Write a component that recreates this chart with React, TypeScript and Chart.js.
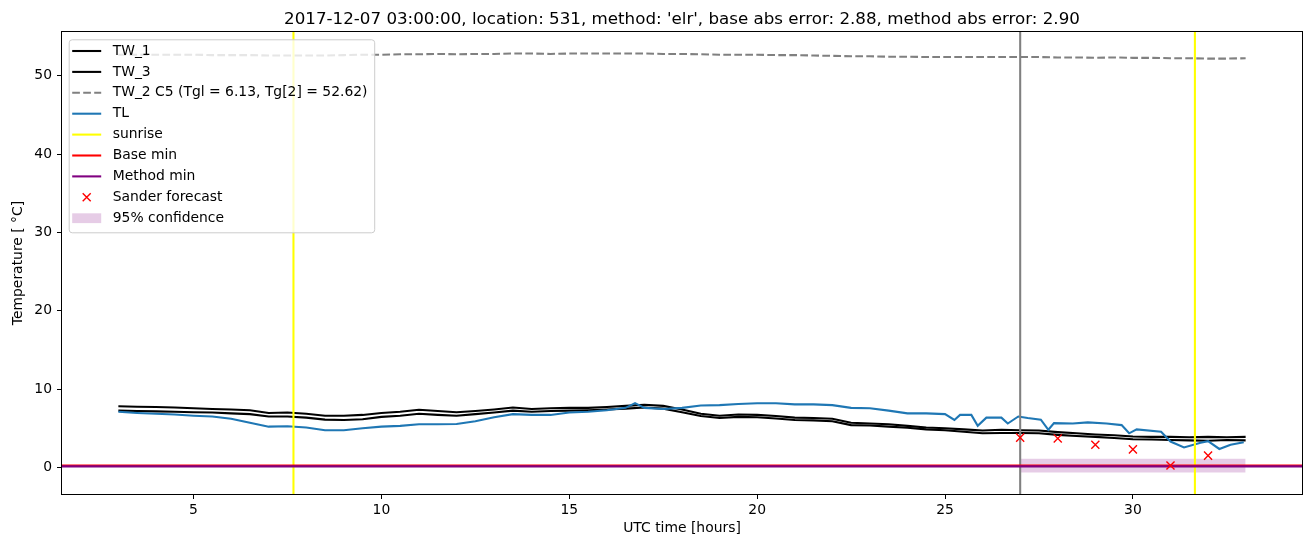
import React, { useEffect, useRef } from 'react';
import { Chart, registerables } from 'chart.js';

Chart.register(...registerables);

// ---------------- data ----------------
const titleText =
  "2017-12-07 03:00:00, location: 531, method: 'elr', base abs error: 2.88, method abs error: 2.90";

const hours = [
  3, 3.5, 4, 4.5, 5, 5.5, 6, 6.5, 7, 7.5,
  8, 8.5, 9, 9.5, 10, 10.5, 11, 11.5, 12, 12.5,
  13, 13.5, 14, 14.5, 15, 15.5, 16, 16.5, 17, 17.5,
  18, 18.5, 19, 19.5, 20, 20.5, 21, 21.5, 22, 22.5,
  23, 23.5, 24, 24.5, 25, 25.5, 26, 26.5, 27, 27.5,
  28, 28.5, 29, 29.5, 30, 30.5, 31, 31.5, 32, 32.5,
  33,
];

const tw1Values = [
  7.8, 7.75, 7.7, 7.65, 7.55, 7.45, 7.4, 7.3, 6.95, 7.0,
  6.85, 6.6, 6.6, 6.7, 6.95, 7.1, 7.35, 7.2, 7.05, 7.2,
  7.4, 7.65, 7.45, 7.55, 7.6, 7.6, 7.7, 7.85, 8.0, 7.85,
  7.4, 6.85, 6.6, 6.75, 6.7, 6.55, 6.35, 6.3, 6.2, 5.7,
  5.6, 5.5, 5.3, 5.1, 5.0, 4.85, 4.7, 4.8, 4.75, 4.7,
  4.5, 4.35, 4.2, 4.1, 3.95, 3.9, 3.9, 3.85, 3.9, 3.85,
  3.9,
];

const tw3Values = [
  7.25, 7.2, 7.15, 7.1, 7.05, 7.0, 6.9, 6.8, 6.5, 6.5,
  6.35, 6.1, 6.05, 6.15, 6.45, 6.6, 6.85, 6.7, 6.6, 6.8,
  7.0, 7.25, 7.1, 7.2, 7.25, 7.3, 7.4, 7.5, 7.65, 7.5,
  7.05, 6.55, 6.3, 6.45, 6.4, 6.25, 6.05, 6.0, 5.9, 5.4,
  5.35, 5.2, 5.05, 4.85, 4.75, 4.55, 4.35, 4.4, 4.4, 4.35,
  4.15, 4.0, 3.9, 3.75, 3.6, 3.55, 3.5, 3.45, 3.4, 3.5,
  3.45,
];

const tw2Values = [
  52.7, 52.7, 52.7, 52.7, 52.7, 52.65, 52.65, 52.65, 52.6, 52.6,
  52.6, 52.6, 52.65, 52.7, 52.7, 52.75, 52.75, 52.8, 52.75, 52.8,
  52.8, 52.85, 52.85, 52.8, 52.85, 52.85, 52.85, 52.85, 52.85, 52.8,
  52.8, 52.75, 52.7, 52.7, 52.7, 52.65, 52.65, 52.6, 52.55, 52.5,
  52.5, 52.45, 52.45, 52.4, 52.4, 52.4, 52.4, 52.4, 52.4, 52.4,
  52.35, 52.35, 52.3, 52.35, 52.3, 52.3, 52.25, 52.25, 52.2, 52.2,
  52.25,
];

const tlHours = [
  3, 3.5, 4, 4.5, 5, 5.5, 6, 6.5, 7, 7.5,
  8, 8.5, 9, 9.5, 10, 10.5, 11, 11.5, 12, 12.5,
  13, 13.5, 14, 14.5, 15, 15.5, 16, 16.5, 16.75, 17,
  17.5, 18, 18.5, 19, 19.5, 20, 20.5, 21, 21.5, 22,
  22.5, 23, 23.5, 24, 24.5, 25, 25.25, 25.4, 25.7, 25.87,
  26.1, 26.5, 26.67, 26.95, 27.2, 27.55, 27.75, 27.9, 28.4, 28.8,
  29.3, 29.7, 29.9, 30.1, 30.75, 31.0, 31.36, 31.8, 32.0, 32.3,
  32.6, 32.95,
];

const tlValues = [
  7.1, 6.95, 6.85, 6.75, 6.6, 6.5, 6.2, 5.7, 5.2, 5.25,
  5.1, 4.75, 4.75, 5.0, 5.2, 5.3, 5.5, 5.5, 5.55, 5.9,
  6.4, 6.8, 6.7, 6.7, 7.0, 7.1, 7.3, 7.6, 8.2, 7.6,
  7.45, 7.6, 7.9, 7.95, 8.1, 8.2, 8.2, 8.05, 8.05, 7.95,
  7.6, 7.55, 7.25, 6.9, 6.9, 6.8, 6.05, 6.7, 6.7, 5.3,
  6.35, 6.35, 5.6, 6.5, 6.3, 6.1, 4.8, 5.65, 5.6, 5.75,
  5.6, 5.4, 4.35, 4.85, 4.55, 3.3, 2.55, 3.15, 3.35, 2.35,
  2.9, 3.2,
];

const sunriseHours = [7.66, 31.65];
const forecastHour = 27;
const baseMin = 0.25;
const methodMin = 0.13;

const sanderHours = [27, 28, 29, 30, 31, 32];
const sanderValues = [3.8, 3.7, 2.9, 2.3, 0.23, 1.5];

const confHours = [27, 33];
const confLower = [-0.65, -0.65];
const confUpper = [1.1, 1.1];

const xLimits = [1.5, 34.5];
const yLimits = [-3.4, 55.6];
const xTicks = [5, 10, 15, 20, 25, 30];
const yTicks = [0, 10, 20, 30, 40, 50];

// ---------------- style ----------------
const FONT = "'DejaVu Sans'";
const FS = 13.9;
const LW = 2.08;

const pts = (xs: number[], ys: number[]) => xs.map((x, i) => ({ x, y: ys[i] }));

const decorPlugin = {
  id: 'decor',
  afterDraw(chart: any) {
    const { ctx, chartArea: a } = chart;
    ctx.save();
    // spines
    ctx.strokeStyle = '#000';
    ctx.lineWidth = 1;
    ctx.strokeRect(a.left - 0.5, a.top - 0.5, a.right - a.left + 1, a.bottom - a.top + 1);

    // title
    ctx.fillStyle = '#000';
    ctx.font = `16.7px ${FONT}`;
    ctx.textAlign = 'center';
    ctx.textBaseline = 'alphabetic';
    ctx.fillText(titleText, (a.left + a.right) / 2, 24);

    // legend
    const items = chart.data.datasets.filter((d: any) => d.legendKind);
    ctx.font = `${FS}px ${FONT}`;
    const maxW = Math.max(...items.map((d: any) => ctx.measureText(d.label).width));
    const lx = a.left + 6.7;
    const ly = a.top + 7.3;
    const lw = 44 + maxW + 6.7;
    const lh = 193;
    ctx.beginPath();
    (ctx as any).roundRect(lx + 0.5, ly + 0.5, lw, lh, 3);
    ctx.fillStyle = 'rgba(255,255,255,0.8)';
    ctx.fill();
    ctx.strokeStyle = '#cccccc';
    ctx.lineWidth = 1;
    ctx.stroke();

    const hx0 = lx + 3.5;
    const hx1 = lx + 32.5;
    const tx = lx + 44;
    items.forEach((d: any, i: number) => {
      const cy = ly + 11.7 + i * 20.9;
      ctx.save();
      if (d.legendKind === 'line' || d.legendKind === 'dash') {
        ctx.strokeStyle = d.borderColor;
        ctx.lineWidth = LW;
        ctx.setLineDash(d.legendKind === 'dash' ? d.borderDash : []);
        ctx.beginPath();
        ctx.moveTo(hx0, cy);
        ctx.lineTo(hx1, cy);
        ctx.stroke();
      } else if (d.legendKind === 'cross') {
        const cx = (hx0 + hx1) / 2;
        const r = 4;
        ctx.strokeStyle = d.borderColor;
        ctx.lineWidth = 1.4;
        ctx.beginPath();
        ctx.moveTo(cx - r, cy - r);
        ctx.lineTo(cx + r, cy + r);
        ctx.moveTo(cx + r, cy - r);
        ctx.lineTo(cx - r, cy + r);
        ctx.stroke();
      } else if (d.legendKind === 'patch') {
        ctx.fillStyle = d.backgroundColor;
        ctx.fillRect(hx0, cy - 4.9, hx1 - hx0, 9.8);
      }
      ctx.restore();
      ctx.fillStyle = '#000';
      ctx.font = `${FS}px ${FONT}`;
      ctx.textAlign = 'left';
      ctx.textBaseline = 'middle';
      ctx.fillText(d.label, tx, cy);
    });
    ctx.restore();
  },
};

export default function App() {
  const ref = useRef<HTMLCanvasElement | null>(null);

  useEffect(() => {
    if (!ref.current) return;
    Chart.defaults.font.family = FONT;
    Chart.defaults.font.size = FS;
    Chart.defaults.color = '#000';

    const vline = (h: number) => [
      { x: h, y: yLimits[0] },
      { x: h, y: yLimits[1] },
    ];
    const hline = (v: number) => [
      { x: xLimits[0], y: v },
      { x: xLimits[1], y: v },
    ];

    const datasets: any[] = [
      {
        label: 'TW_1', legendKind: 'line', data: pts(hours, tw1Values),
        borderColor: '#000000', borderWidth: LW, order: 50,
      },
      {
        label: 'TW_3', legendKind: 'line', data: pts(hours, tw3Values),
        borderColor: '#000000', borderWidth: LW, order: 49,
      },
      {
        label: 'TW_2 C5 (Tgl = 6.13, Tg[2] = 52.62)', legendKind: 'dash',
        data: pts(hours, tw2Values), borderColor: '#808080', borderWidth: LW,
        borderDash: [7.7, 3.3], order: 48,
      },
      {
        label: 'TL', legendKind: 'line', data: pts(tlHours, tlValues),
        borderColor: '#1f77b4', borderWidth: LW, order: 47,
      },
      {
        label: 'sunrise', legendKind: 'line', data: vline(sunriseHours[0]),
        borderColor: '#ffff00', borderWidth: LW, order: 46,
      },
      {
        label: '', data: vline(sunriseHours[1]),
        borderColor: '#ffff00', borderWidth: LW, order: 45,
      },
      {
        label: '', data: vline(forecastHour),
        borderColor: '#808080', borderWidth: LW, order: 44,
      },
      {
        label: 'Base min', legendKind: 'line', data: hline(baseMin),
        borderColor: '#ff0000', borderWidth: LW, order: 43,
      },
      {
        label: 'Method min', legendKind: 'line', data: hline(methodMin),
        borderColor: '#800080', borderWidth: LW, order: 42,
      },
      {
        label: 'Sander forecast', legendKind: 'cross', data: pts(sanderHours, sanderValues),
        borderColor: '#ff0000', backgroundColor: '#ff0000', showLine: false,
        pointStyle: 'crossRot', pointRadius: 5.7, pointBorderWidth: 1.4, order: 41,
      },
      {
        label: '', data: pts(confHours, confLower),
        borderWidth: 0, borderColor: 'rgba(0,0,0,0)', order: 100,
      },
      {
        label: '95% confidence', legendKind: 'patch', data: pts(confHours, confUpper),
        borderWidth: 0, borderColor: 'rgba(0,0,0,0)',
        backgroundColor: 'rgba(128,0,128,0.2)', fill: { target: 10 }, order: 99,
      },
    ];
    datasets.forEach((d) => {
      if (d.pointRadius === undefined) d.pointRadius = 0;
      d.tension = 0;
      if (d.fill === undefined) d.fill = false;
    });

    const chart = new Chart(ref.current, {
      type: 'line',
      data: { datasets },
      options: {
        animation: false,
        responsive: false,
        events: [],
        layout: { padding: { top: 32, right: 8, left: 0, bottom: 0 } },
        plugins: {
          legend: { display: false },
          title: { display: false },
          tooltip: { enabled: false },
        },
        scales: {
          x: {
            type: 'linear',
            min: xLimits[0],
            max: xLimits[1],
            afterBuildTicks: (s: any) => { s.ticks = xTicks.map((v) => ({ value: v })); },
            afterFit: (s: any) => { s.height = 53; },
            ticks: { padding: 3, color: '#000', font: { size: FS }, callback: (v: any) => String(v), maxRotation: 0 },
            grid: { drawOnChartArea: false, drawTicks: true, tickLength: 5, color: '#000', lineWidth: 1 },
            border: { display: false },
            title: { display: true, text: 'UTC time [hours]', color: '#000', font: { size: FS }, padding: { top: 0, bottom: 10 } },
          },
          y: {
            type: 'linear',
            min: yLimits[0],
            max: yLimits[1],
            afterBuildTicks: (s: any) => { s.ticks = yTicks.map((v) => ({ value: v })); },
            afterFit: (s: any) => { s.width = 62; },
            ticks: { padding: 5, color: '#000', font: { size: FS }, callback: (v: any) => String(v) },
            grid: { drawOnChartArea: false, drawTicks: true, tickLength: 5, color: '#000', lineWidth: 1 },
            border: { display: false },
            title: { display: true, text: 'Temperature [ °C]', color: '#000', font: { size: FS }, padding: { top: 10, bottom: 0 } },
          },
        },
      },
      plugins: [decorPlugin],
    } as any);

    return () => chart.destroy();
  }, []);

  return (
    <div style={{ position: 'absolute', left: 0, top: 0, width: 1310, height: 547, background: '#fff' }}>
      <canvas ref={ref} width={1310} height={547} style={{ display: 'block' }} />
    </div>
  );
}
